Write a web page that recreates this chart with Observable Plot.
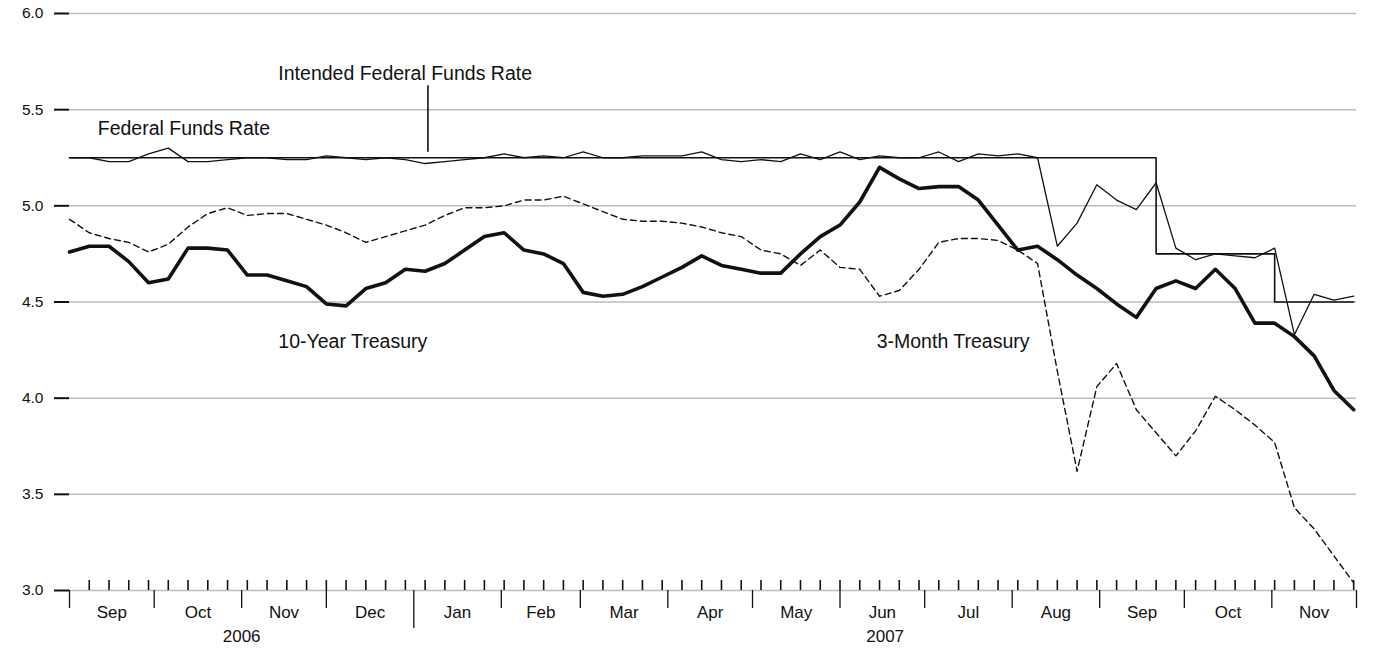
<!DOCTYPE html>
<html>
<head>
<meta charset="utf-8">
<script src="https://cdn.jsdelivr.net/npm/d3@7"></script>
<script src="https://cdn.jsdelivr.net/npm/@observablehq/plot@0.6"></script>
<style>
  html, body { margin: 0; padding: 0; background: #fff; }
  #chart svg { display: block; }
</style>
</head>
<body>
<div id="chart"></div>
<script>
// ---- Data (weekly, Fridays, Sep 1 2006 – Nov 30 2007) ----
const firstWeek = new Date(Date.UTC(2006, 8, 1));
const lastWeek = new Date(Date.UTC(2007, 10, 30));

const intendedRate = [
  5.25,5.25,5.25,5.25,5.25,5.25,5.25,5.25,5.25,5.25,
  5.25,5.25,5.25,5.25,5.25,5.25,5.25,5.25,5.25,5.25,
  5.25,5.25,5.25,5.25,5.25,5.25,5.25,5.25,5.25,5.25,
  5.25,5.25,5.25,5.25,5.25,5.25,5.25,5.25,5.25,5.25,
  5.25,5.25,5.25,5.25,5.25,5.25,5.25,5.25,5.25,5.25,
  5.25,5.25,5.25,5.25,5.25,4.75,4.75,4.75,4.75,4.75,
  4.75,4.50,4.50,4.50,4.50,4.50
];
const fedFundsRate = [
  5.25,5.25,5.23,5.23,5.27,5.30,5.23,5.23,5.24,5.25,
  5.25,5.24,5.24,5.26,5.25,5.24,5.25,5.24,5.22,5.23,
  5.24,5.25,5.27,5.25,5.26,5.25,5.28,5.25,5.25,5.26,
  5.26,5.26,5.28,5.24,5.23,5.24,5.23,5.27,5.24,5.28,
  5.24,5.26,5.25,5.25,5.28,5.23,5.27,5.26,5.27,5.25,
  4.79,4.91,5.11,5.03,4.98,5.12,4.78,4.72,4.75,4.74,
  4.73,4.78,4.33,4.54,4.51,4.53
];
const tenYearTreasury = [
  4.76,4.79,4.79,4.71,4.60,4.62,4.78,4.78,4.77,4.64,
  4.64,4.61,4.58,4.49,4.48,4.57,4.60,4.67,4.66,4.70,
  4.77,4.84,4.86,4.77,4.75,4.70,4.55,4.53,4.54,4.58,
  4.63,4.68,4.74,4.69,4.67,4.65,4.65,4.75,4.84,4.90,
  5.02,5.20,5.14,5.09,5.10,5.10,5.03,4.90,4.77,4.79,
  4.72,4.64,4.57,4.49,4.42,4.57,4.61,4.57,4.67,4.57,
  4.39,4.39,4.32,4.22,4.04,3.94
];
const threeMonthTreasury = [
  4.93,4.86,4.83,4.81,4.76,4.80,4.89,4.96,4.99,4.95,
  4.96,4.96,4.93,4.90,4.86,4.81,4.84,4.87,4.90,4.95,
  4.99,4.99,5.00,5.03,5.03,5.05,5.01,4.97,4.93,4.92,
  4.92,4.91,4.89,4.86,4.84,4.77,4.75,4.69,4.77,4.68,
  4.67,4.53,4.56,4.67,4.81,4.83,4.83,4.82,4.77,4.70,
  4.14,3.62,4.06,4.18,3.94,3.82,3.70,3.83,4.01,3.94,
  3.86,3.77,3.43,3.32,3.18,3.04
];

const yTicks = [3.0, 3.5, 4.0, 4.5, 5.0, 5.5, 6.0];
const monthNames = ["Sep","Oct","Nov","Dec","Jan","Feb","Mar","Apr","May","Jun","Jul","Aug","Sep","Oct","Nov"];
const yearNames = ["2006", "2007"];

// annotation labels: [text, date, value]
const labels = [
  ["Intended Federal Funds Rate", "2006-11-14", 5.686],
  ["Federal Funds Rate", "2006-09-11", 5.40],
  ["10-Year Treasury", "2006-11-14", 4.295],
  ["3-Month Treasury", "2007-06-14", 4.295]
];
const pointer = {date: "2007-01-06", from: 5.278, to: 5.625};

// ---- Build tables ----
const weeks = d3.utcFriday.range(firstWeek, d3.utcDay.offset(lastWeek, 1));
const table = weeks.map((date, i) => ({
  date,
  intended: intendedRate[i],
  fed: fedFundsRate[i],
  ten: tenYearTreasury[i],
  three: threeMonthTreasury[i]
}));
const axisStart = new Date(Date.UTC(2006, 8, 1));
const axisEnd = new Date(Date.UTC(2007, 11, 1));
const monthStarts = d3.utcMonth.range(axisStart, d3.utcDay.offset(axisEnd, 1));
const monthLabels = monthNames.map((name, i) => ({
  name,
  date: new Date((+monthStarts[i] + +monthStarts[i + 1]) / 2)
}));
const yearBreak = new Date(Date.UTC(2007, 0, 1));
const yearLabels = [
  {name: yearNames[0], date: new Date((+axisStart + +yearBreak) / 2)},
  {name: yearNames[1], date: new Date((+yearBreak + +axisEnd) / 2)}
];
const labelRows = labels.map(([text, d, v]) => ({text, date: new Date(d + "T00:00:00Z"), value: v}));

const font = '"Liberation Sans", Arial, Helvetica, sans-serif';
const ink = "#111";

const chart = Plot.plot({
  width: 1375,
  height: 655,
  marginLeft: 69,
  marginRight: 19,
  marginTop: 13,
  marginBottom: 65,
  style: {fontFamily: font, background: "#fff", color: ink},
  x: {type: "utc", domain: [axisStart, axisEnd], axis: null},
  y: {domain: [3, 6], axis: null},
  marks: [
    Plot.ruleY(yTicks, {stroke: "#bdbdbd", strokeWidth: 1.5}),
    Plot.axisY({ticks: yTicks, tickSize: 15, tickPadding: 11, tickFormat: d => d.toFixed(1),
      fontSize: 15.5, strokeWidth: 2, stroke: ink, fill: ink, label: null}),
    // weekly ticks (upward)
    Plot.ruleX(weeks.slice(1), {x: d => d, y1: 3, y2: 3, insetBottom: 10, stroke: ink, strokeWidth: 1.6}),
    // month boundary ticks (downward)
    Plot.ruleX(monthStarts.filter(d => +d !== +yearBreak), {x: d => d, y1: 3, y2: 3, insetTop: 18, stroke: ink, strokeWidth: 1.3}),
    Plot.ruleX([yearBreak], {x: d => d, y1: 3, y2: 3, insetTop: 38, stroke: ink, strokeWidth: 1.3}),
    Plot.text(monthLabels, {x: "date", text: "name", frameAnchor: "bottom", dy: 27, fontSize: 17, fill: ink}),
    Plot.text(yearLabels, {x: "date", text: "name", frameAnchor: "bottom", dy: 51, fontSize: 17, fill: ink}),
    // series
    Plot.line(table, {x: "date", y: "intended", curve: "step-after", stroke: ink, strokeWidth: 1.6}),
    Plot.line(table, {x: "date", y: "fed", stroke: ink, strokeWidth: 1.3}),
    Plot.line(table, {x: "date", y: "three", stroke: ink, strokeWidth: 1.4, strokeDasharray: "6,4"}),
    Plot.line(table, {x: "date", y: "ten", stroke: ink, strokeWidth: 3.6, strokeLinejoin: "round"}),
    // annotations
    Plot.text(labelRows, {x: "date", y: "value", text: "text", textAnchor: "start", fontSize: 19.5, fill: ink}),
    Plot.ruleX([pointer], {x: d => new Date(d.date + "T00:00:00Z"), y1: "from", y2: "to", stroke: ink, strokeWidth: 1.6})
  ]
});
document.getElementById("chart").appendChild(chart);
</script>
</body>
</html>
